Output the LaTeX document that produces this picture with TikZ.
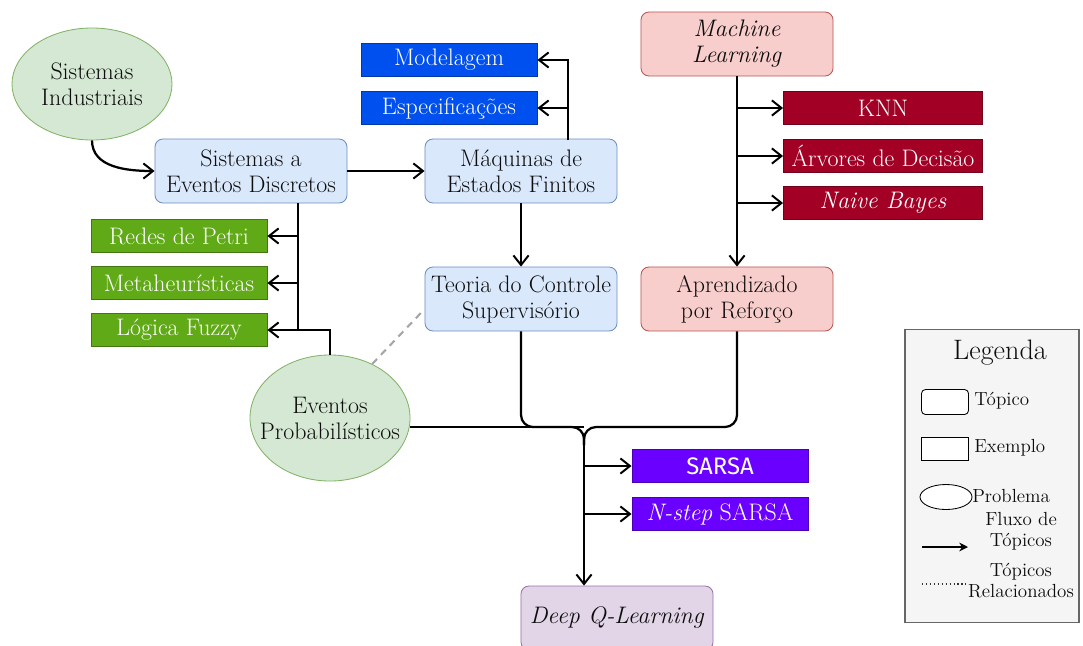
\documentclass[tikz,border=0pt]{standalone}
\usepackage{fontspec}
\newfontfamily\sarsafont{Fira Sans}
\usetikzlibrary{arrows.meta,shapes.geometric}

\definecolor{azulclaro}{HTML}{DAE8FC}
\definecolor{azulborda}{HTML}{6C8EBF}
\definecolor{vermclaro}{HTML}{F8CECC}
\definecolor{vermborda}{HTML}{B85450}
\definecolor{roxoclaro}{HTML}{E1D5E7}
\definecolor{roxoborda}{HTML}{9673A6}
\definecolor{verdeclaro}{HTML}{D5E8D4}
\definecolor{verdeborda}{HTML}{82B366}
\definecolor{azulforte}{HTML}{0050EF}
\definecolor{verdeforte}{HTML}{60A917}
\definecolor{vinho}{HTML}{A20025}
\definecolor{roxoforte}{HTML}{6A00FF}
\definecolor{legfundo}{HTML}{F5F5F5}

\begin{document}
\begin{tikzpicture}[x=0.025cm, y=-0.025cm,
  every node/.style={font=\fontsize{17}{18.5}\selectfont, align=center, inner sep=0pt, text=black!95},
  topico/.style={draw, rounded corners=0.2cm, line width=0.6pt, minimum width=4.8cm, minimum height=1.6cm},
  topico-azul/.style={topico, fill=azulclaro, draw=azulborda},
  topico-verm/.style={topico, fill=vermclaro, draw=vermborda},
  topico-roxo/.style={topico, fill=roxoclaro, draw=roxoborda},
  exemplo/.style={draw, line width=0.6pt, minimum width=4.4cm, minimum height=0.84cm, text=white},
  problema/.style={ellipse, draw=verdeborda, fill=verdeclaro, line width=0.6pt, minimum width=4cm, inner xsep=-10pt},
  linha/.style={line width=1.6pt},
  fluxo/.style={linha, -{Straight Barb[length=2.4mm, width=3.8mm, line width=1.4pt]}},
  relacao/.style={line width=1.5pt, gray!70, dash pattern=on 5pt off 4pt},
  leg-texto/.style={font=\fontsize{13.5}{15}\selectfont}
]

\useasboundingbox (0,0) rectangle (1083,645);

% problemas
\node[problema, minimum height=2.8cm] (sis-ind) at (92,84) {Sistemas\\Industriais};
\node[problema, minimum height=3.15cm] (eventos) at (330,418) {Eventos\\Probabilísticos};

% topicos
\node[topico-azul] (sed) at (251,171) {Sistemas a\\Eventos Discretos};
\node[topico-azul] (mef) at (521,171) {Máquinas de\\Estados Finitos};
\node[topico-azul] (teoria) at (521,299) {Teoria do Controle\\Supervisório};
\node[topico-verm] (ml) at (737,44) {\textit{Machine}\\\textit{Learning}};
\node[topico-verm] (aprend) at (737,299) {Aprendizado\\por Reforço};
\node[topico-roxo] (deep) at (617,618) {\textit{Deep Q-Learning}};

% exemplos
\node[exemplo, fill=azulforte, draw=azulforte!70!black] (modelagem) at (449,60) {Modelagem};
\node[exemplo, fill=azulforte, draw=azulforte!70!black] (especif) at (449,108) {Especificações};
\node[exemplo, fill=verdeforte, draw=verdeforte!70!black] (petri) at (179,236) {Redes de Petri};
\node[exemplo, fill=verdeforte, draw=verdeforte!70!black] (meta) at (179,283) {Metaheurísticas};
\node[exemplo, fill=verdeforte, draw=verdeforte!70!black] (fuzzy) at (179,330) {Lógica Fuzzy};
\node[exemplo, fill=vinho, draw=vinho!70!black, minimum width=4.975cm] (knn) at (883,108) {KNN};
\node[exemplo, fill=vinho, draw=vinho!70!black, minimum width=4.975cm] (arvores) at (883,156) {Árvores de Decisão};
\node[exemplo, fill=vinho, draw=vinho!70!black, minimum width=4.975cm] (naive) at (883,203) {\textit{Naive Bayes}};
\node[exemplo, fill=roxoforte, draw=roxoforte!70!black] (sarsa) at (720,466) {\sarsafont SARSA};
\node[exemplo, fill=roxoforte, draw=roxoforte!70!black] (nstep) at (720,514) {\textit{N-step} SARSA};

\coordinate (sed-tap) at (298,203);
\coordinate (mef-tap) at (568,140);
\coordinate (merge) at (584,427);
\coordinate (merge-low) at (584,445);

% fluxos
\draw[fluxo] (sis-ind.south) to[out=-90, in=180] (sed.west);
\draw[fluxo] (sed.east) -- (mef.west);
\draw[fluxo] (mef-tap) |- (modelagem.east);
\draw[fluxo] (especif.east -| mef-tap) -- (especif.east);
\draw[fluxo] (mef.south) -- (teoria.north);

\draw[linha] (sed-tap) -- (sed-tap |- fuzzy.east);
\draw[fluxo] (petri.east -| sed-tap) -- (petri.east);
\draw[fluxo] (meta.east -| sed-tap) -- (meta.east);
\draw[fluxo] (eventos.north) |- (fuzzy.east);

\draw[fluxo] (ml.south) -- (aprend.north);
\draw[fluxo] (knn.west -| ml.south) -- (knn.west);
\draw[fluxo] (arvores.west -| ml.south) -- (arvores.west);
\draw[fluxo] (naive.west -| ml.south) -- (naive.west);

\draw[linha, rounded corners=0.3cm] (teoria.south) |- (merge) -- (merge-low);
\draw[linha, rounded corners=0.3cm] (aprend.south) |- (merge) -- (merge-low);
\draw[linha] (eventos.east |- merge) -- (merge);
\draw[fluxo] (merge-low) -- (merge |- deep.north);
\draw[fluxo] (sarsa.west -| merge) -- (sarsa.west);
\draw[fluxo] (nstep.west -| merge) -- (nstep.west);

\draw[relacao] (eventos.52) -- (teoria.186);

% legenda
\node[draw=black!60, fill=legfundo, line width=1pt, minimum width=4.35cm, minimum height=7.325cm] (legenda) at (992,476) {};
\node[font=\fontsize{20}{22}\selectfont] (leg-titulo) at (1000,353) {Legenda};
\node[draw=black, fill=white, rounded corners=0.1cm, line width=0.6pt, minimum width=1.175cm, minimum height=0.625cm] (leg-topico) at (945,402) {};
\node[leg-texto, anchor=west] (leg-topico-txt) at (974,401) {Tópico};
\node[draw=black, fill=white, line width=0.6pt, minimum width=1.175cm, minimum height=0.575cm] (leg-exemplo) at (945,449) {};
\node[leg-texto, anchor=west] (leg-exemplo-txt) at (974,448) {Exemplo};
\node[ellipse, draw=black, fill=white, line width=0.6pt, minimum width=1.3cm, minimum height=0.625cm] (leg-problema) at (946,497) {};
\node[leg-texto, anchor=west] (leg-problema-txt) at (972,496) {Problema};
\coordinate (leg-fluxo-a) at (922,547);
\coordinate (leg-fluxo-b) at (968,547);
\draw[line width=0.9pt, -{Stealth[length=2.2mm, width=2.2mm]}] (leg-fluxo-a) -- (leg-fluxo-b);
\node[leg-texto] (leg-fluxo-txt) at (1021,531) {Fluxo de\\Tópicos};
\coordinate (leg-rel-a) at (922,584);
\coordinate (leg-rel-b) at (968,584);
\draw[line width=0.8pt, dotted, black!80] (leg-rel-a) -- (leg-rel-b);
\node[leg-texto] (leg-rel-txt) at (1021,581) {Tópicos\\Relacionados};

\end{tikzpicture}
\end{document}
